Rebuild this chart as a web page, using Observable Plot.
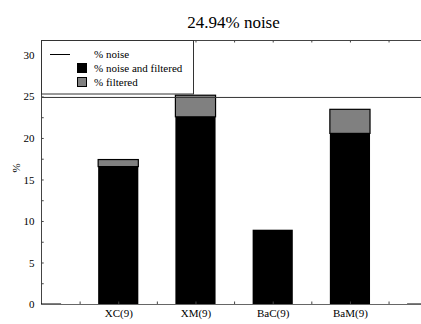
<!DOCTYPE html>
<html><head><meta charset="utf-8">
<script src="https://cdn.jsdelivr.net/npm/d3@7"></script>
<script src="https://cdn.jsdelivr.net/npm/@observablehq/plot@0.6"></script>
<style>body{margin:0;background:#fff} svg, svg text{font-family:"Liberation Serif","Times New Roman",serif !important}</style>
</head><body><div id="chart"></div>
<script>
const categories = ["XC(9)", "XM(9)", "BaC(9)", "BaM(9)"];
const noiseAndFiltered = [16.55, 22.55, 8.95, 20.55];
const filteredOnly = [0.85, 2.6, 0, 2.9];
const noiseLevel = 24.94;
const emptySlots = [0, 5];
const yTicks = [0, 5, 10, 15, 20, 25, 30];
const legendLabels = ["% noise", "% noise and filtered", "% filtered"];
const title = "24.94% noise";

const rows = categories.map((c, i) => ({cat: c, pos: i + 1, nf: noiseAndFiltered[i], f: filteredOnly[i]}));
const hw = 0.26;
const minor = d3.range(0, 31.9, 2.5);
const halfSteps = d3.range(0.5, 4.9, 0.5);
const font = "Liberation Serif";

const plot = Plot.plot({
  width: 421, height: 324,
  marginTop: 40, marginBottom: 20, marginLeft: 41, marginRight: 0,
  x: {domain: [0, 4.92]},
  y: {domain: [0, 31.8]},
  style: {fontFamily: font, fontSize: "11px", color: "black", background: "white"},
  marks: [
    Plot.rectY(rows, {x1: d => d.pos - hw, x2: d => d.pos + hw, y1: 0, y2: "nf", fill: "black"}),
    Plot.rectY(rows.filter(d => d.f > 0), {x1: d => d.pos - hw, x2: d => d.pos + hw, y1: "nf", y2: d => d.nf + d.f, fill: "#808080", stroke: "black", strokeWidth: 1.2}),
    Plot.ruleY([noiseLevel], {stroke: "#333"}),
    Plot.ruleY(minor, {x1: 0, x2: 0.035, stroke: "#444"}),
    Plot.ruleX(halfSteps, {y1: 0, y2: 0.3, stroke: "#444"}),
    Plot.ruleX(halfSteps, {y1: 31.8, y2: 31.5, stroke: "#444"}),
    Plot.ruleY([0], {stroke: "#666"}),
    Plot.ruleY([31.8], {stroke: "#444"}),
    Plot.ruleX([0], {stroke: "#444"}),
    Plot.ruleY(emptySlots, {y: 0, x1: d => d - hw, x2: d => d + hw, stroke: "black", strokeWidth: 2, clip: true}),
    Plot.axisY({ticks: yTicks, tickSize: 0, tickPadding: 7, label: null}),
    Plot.axisX({ticks: [1, 2, 3, 4], tickFormat: d => categories[d - 1], tickSize: 0, tickPadding: 5, label: null}),
    Plot.text(["%"], {frameAnchor: "left", dx: -25, rotate: -90, fontSize: 11}),
    Plot.text([title], {frameAnchor: "top", dx: 2, dy: -13, lineAnchor: "bottom", fontSize: 17})
  ]
});

const svg = d3.select(plot);
const lg = svg.append("g").attr("text-anchor", "start");
lg.append("rect").attr("x", 41.5).attr("y", 40.5).attr("width", 152).attr("height", 53.5).attr("fill", "white").attr("stroke", "#333");
lg.append("line").attr("x1", 50).attr("x2", 70).attr("y1", 54.5).attr("y2", 54.5).attr("stroke", "black");
lg.append("rect").attr("x", 77.5).attr("y", 63.5).attr("width", 9).attr("height", 9).attr("fill", "black").attr("stroke", "black");
lg.append("rect").attr("x", 77.5).attr("y", 77.5).attr("width", 9).attr("height", 9).attr("fill", "#808080").attr("stroke", "black");
legendLabels.forEach((t, i) => {
  lg.append("text").attr("x", 94).attr("y", 58 + i * 14)
    .style("font-size", "11px").style("font-family", "'Liberation Serif', serif").text(t);
});

document.getElementById("chart").appendChild(plot);
</script></body></html>
